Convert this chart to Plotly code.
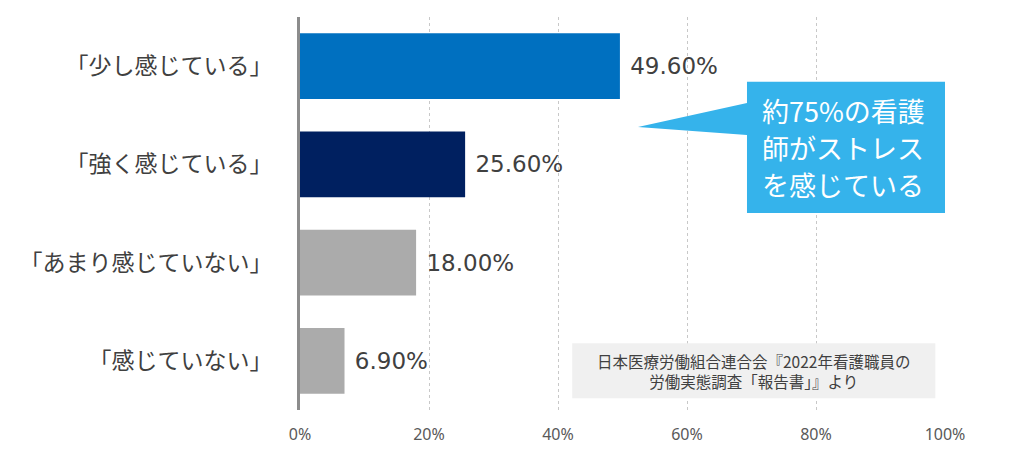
import plotly.graph_objects as go

categories = ["「少し感じている」", "「強く感じている」", "「あまり感じていない」", "「感じていない」"]
values = [49.6, 25.6, 18.0, 6.9]
bar_colors = ["#0070C0", "#002060", "#ABABAB", "#ABABAB"]
x_ticks = [0, 20, 40, 60, 80, 100]
x_tick_labels = ["0%", "20%", "40%", "60%", "80%", "100%"]

callout_lines = ["約75%の看護", "師がストレス", "を感じている"]
source_text = "日本医療労働組合連合会『2022年看護職員の<br>労働実態調査「報告書」』より"

FONT = "Noto Sans CJK JP"
NUM_FONT = "DejaVu Sans"

fig = go.Figure()
fig.add_trace(go.Bar(
    x=values, y=categories, orientation="h",
    marker=dict(color=bar_colors, line=dict(width=0)),
    width=0.67,
    text=values, texttemplate=" %{x:.2f}%", textposition="outside",
    constraintext="none",
    textfont=dict(size=23, color="#404040", family=NUM_FONT),
    cliponaxis=False,
))

# callout bubble
fig.add_shape(type="path", xref="paper", yref="paper",
              path="M 0.693,0.835 L 1,0.835 L 1,0.501 L 0.693,0.501 L 0.693,0.700 L 0.524,0.720 L 0.693,0.781 Z",
              fillcolor="#35B3EB", line=dict(width=0), layer="above")
for i, line in enumerate(callout_lines):
    fig.add_annotation(xref="paper", yref="paper", x=0.713, y=0.763 - i * 0.094, text=line,
                       xanchor="left", yanchor="middle", showarrow=False,
                       font=dict(size=27, color="white", family=FONT))

# source box
fig.add_shape(type="rect", xref="paper", yref="paper", x0=0.422, x1=0.985, y0=0.030, y1=0.170,
              fillcolor="#F0F0F0", line=dict(width=0), layer="above")
fig.add_annotation(xref="paper", yref="paper", x=0.703, y=0.100, text=source_text,
                   xanchor="center", yanchor="middle",
                   showarrow=False, align="center",
                   font=dict(size=15.5, color="#404040", family=FONT))

fig.update_layout(
    width=1024, height=463,
    margin=dict(l=300, r=79, t=17, b=53),
    paper_bgcolor="white", plot_bgcolor="white",
    font=dict(family=FONT, color="#404040"),
    showlegend=False,
    bargap=0.33,
)
fig.update_xaxes(range=[0, 100], tickvals=x_ticks, ticktext=x_tick_labels,
                 showgrid=True, gridcolor="#C8C8C8", griddash="dot", gridwidth=1,
                 zeroline=False, showline=False, ticklabelstandoff=13, automargin=False,
                 tickfont=dict(size=16, color="#595959", family="Noto Sans"))
fig.update_yaxes(autorange="reversed", showline=True, linecolor="#8C8C8C", linewidth=3,
                 ticklabelstandoff=20, automargin=False,
                 tickfont=dict(size=23, color="#404040"),
                 showgrid=False)

fig.write_html("out.html", config={"displayModeBar": False},
               post_script="document.body.style.margin='0';")
